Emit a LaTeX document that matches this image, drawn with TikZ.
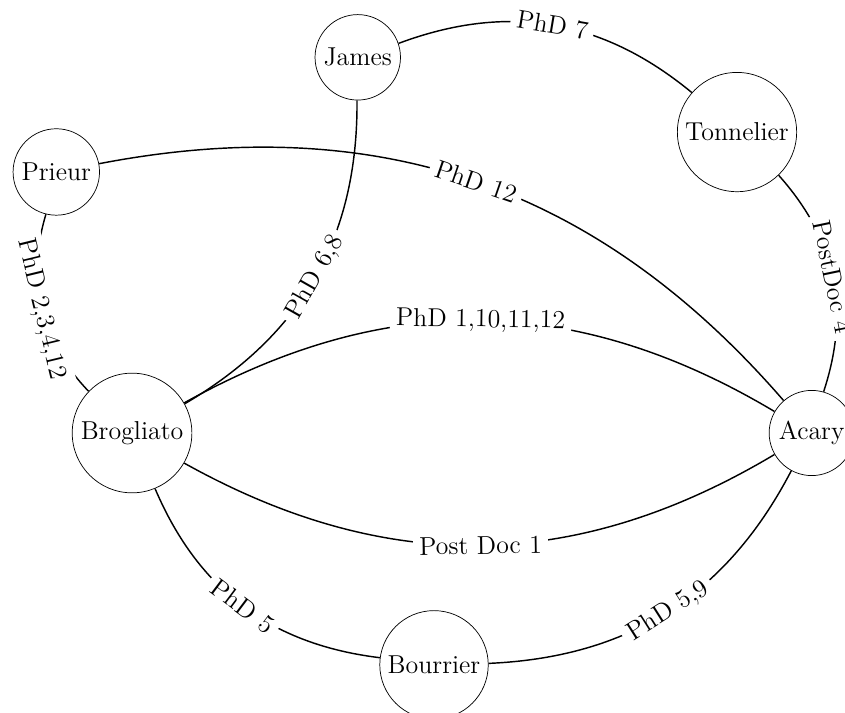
\documentclass[tikz,border=0pt]{standalone}
\usetikzlibrary{positioning}

\begin{document}
\begin{tikzpicture}[
        on grid,
        every node/.style={font=\Large},
        person/.style={circle, draw},
        link/.style={thick},
        tag/.style={midway, sloped, fill=white}
    ]
        \useasboundingbox (-2.58,-5.47) rectangle (13.93,8.46);

        % Nodes
        \node[person] (brogliato) {Brogliato};
        \node[person, right=13.28cm of brogliato] (acary) {Acary};
        \node[person, above left=5.1cm and 1.48cm of brogliato] (prieur) {Prieur};
        \node[person, above right=7.34cm and 4.41cm of brogliato] (james) {James};
        \node[person, above left=5.88cm and 1.46cm of acary] (tonnelier) {Tonnelier};
        \node[person, below right=4.53cm and 5.9cm of brogliato] (bourrier) {Bourrier};

        % Links
        \draw[link] (james) to[bend left] node[tag] {PhD 7} (tonnelier);
        \draw[link] (prieur) to[bend left] node[tag] {PhD 12} (acary);
        \draw[link] (prieur) to[bend right] node[tag] {PhD 2,3,4,12} (brogliato);
        \draw[link] (james) to[bend left] node[tag] {PhD 6,8} (brogliato);
        \draw[link] (brogliato) to[bend left] node[tag] {PhD 1,10,11,12} (acary);
        \draw[link] (brogliato) to[bend right] node[tag] {Post Doc 1} (acary);
        \draw[link] (brogliato) to[bend right] node[tag] {PhD 5} (bourrier);
        \draw[link] (bourrier) to[bend right] node[tag] {PhD 5,9} (acary);
        \draw[link] (tonnelier) to[bend left] node[tag] {PostDoc 4} (acary);
    \end{tikzpicture}
\end{document}
